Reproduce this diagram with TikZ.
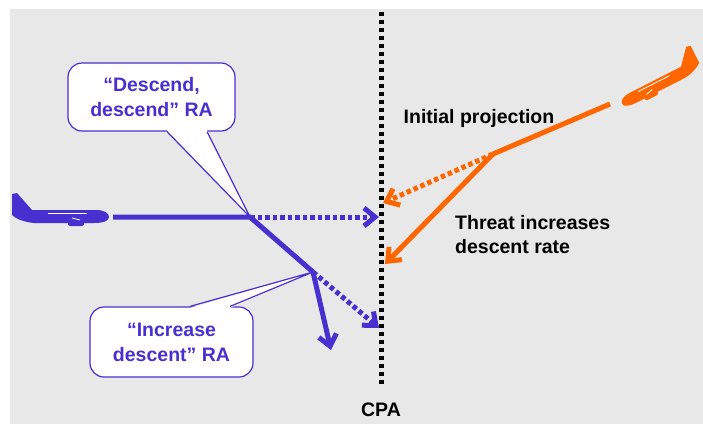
\documentclass[tikz,border=0pt]{standalone}
\usepackage{fontspec}
\setmainfont{Liberation Sans}
\usetikzlibrary{arrows.meta}
\definecolor{rablue}{RGB}{72,48,208}
\definecolor{threat}{RGB}{255,102,0}
\definecolor{bggray}{RGB}{232,232,232}

\begin{document}
\begin{tikzpicture}[x=1pt,y=-1pt,
  every node/.style={inner sep=0pt,font=\fontsize{19.5}{24}\selectfont\bfseries},
  track/.style={line width=5pt},
  proj/.style={line width=5pt,dash pattern=on 4.5pt off 3pt},
  tip/.style={-{Straight Barb[length=11pt,width=18pt]}},
  cpaline/.style={black,line width=5pt,dash pattern=on 4pt off 4pt},
  bubble/.style={draw=rablue,line width=1.2pt,fill=white,rounded corners=14pt,
    text=rablue,align=center,font=\fontsize{19.5}{25}\selectfont\bfseries},
  airliner/.pic={
    % fuselage with tail fin, nose towards +x
    \fill (-48,-1) -- (-48,-22) -- (-43,-23) -- (-28,-6) -- (36,-6)
      .. controls (44,-6) and (49,-3) .. (49,1)
      .. controls (49,5) and (43,7) .. (34,7) -- (-26,7)
      .. controls (-36,6) and (-44,3) .. (-48,-1) -- cycle;
    \fill[rounded corners=2pt] (8,5) rectangle (24,10);
    \draw[white,line width=0.8pt] (-12,-3) -- (27,-3);
    \draw[white,line width=0.8pt] (12,2) -- (20,4);
  }]
\useasboundingbox (0,0) rectangle (703,424);
\fill[bggray] (10,9) rectangle (703,424);

% closest point of approach
\coordinate (cpatop) at (381,12);
\coordinate (cpabot) at (381,387);
\draw[cpaline] (cpatop) -- (cpabot);
\node (cpa) at (381,410) {CPA};

% own aircraft
\pic[rablue] at (60,216) {airliner};
\coordinate (start) at (113,217);
\coordinate (turn1) at (250,217);
\coordinate (turn2) at (313,272);
\coordinate (cpa1) at (379,217);
\coordinate (cpa2) at (379,328);
\coordinate (down) at (331,350);

% resolution advisories
\node[bubble,minimum width=167pt,minimum height=68pt] (ra1) at (151.5,97) {“Descend,\\descend” RA};
\fill[white] ([xshift=15.5pt,yshift=1.5pt]ra1.south) -- (turn1) -- ([xshift=55.5pt,yshift=1.5pt]ra1.south) -- cycle;
\draw[rablue,line width=1.2pt] ([xshift=15.5pt]ra1.south) -- (turn1) -- ([xshift=55.5pt]ra1.south);
\node[bubble,minimum width=163pt,minimum height=70pt] (ra2) at (171.5,342) {“Increase\\descent” RA};
\fill[white] ([xshift=18.5pt,yshift=-1.5pt]ra2.north) -- (turn2) -- ([xshift=58.5pt,yshift=-1.5pt]ra2.north) -- cycle;
\draw[rablue,line width=1.2pt] ([xshift=18.5pt]ra2.north) -- (turn2) -- ([xshift=58.5pt]ra2.north);

\draw[track,rablue] (start) -- (turn1) -- (turn2);
\draw[proj,rablue,tip] (turn1) -- (cpa1);
\draw[proj,rablue,tip] (turn2) -- (cpa2);
\draw[track,rablue,tip] (turn2) -- (down);

% threat aircraft
\pic[threat,shift={(661,83)},rotate=27,xscale=-0.9,yscale=0.9] {airliner};
\coordinate (tstart) at (610,104);
\coordinate (tturn) at (493,154);
\coordinate (tproj) at (383,203);
\coordinate (tnew) at (385,264);
\draw[track,threat] (tstart) -- (tturn);
\draw[proj,threat,tip] (tturn) -- (tproj);
\draw[track,threat,tip] (tturn) -- (tnew);

\node (initial) at (479,118) {Initial projection};
\node[anchor=west,align=left] (rate) at (455,235) {Threat increases\\descent rate};
\end{tikzpicture}
\end{document}
